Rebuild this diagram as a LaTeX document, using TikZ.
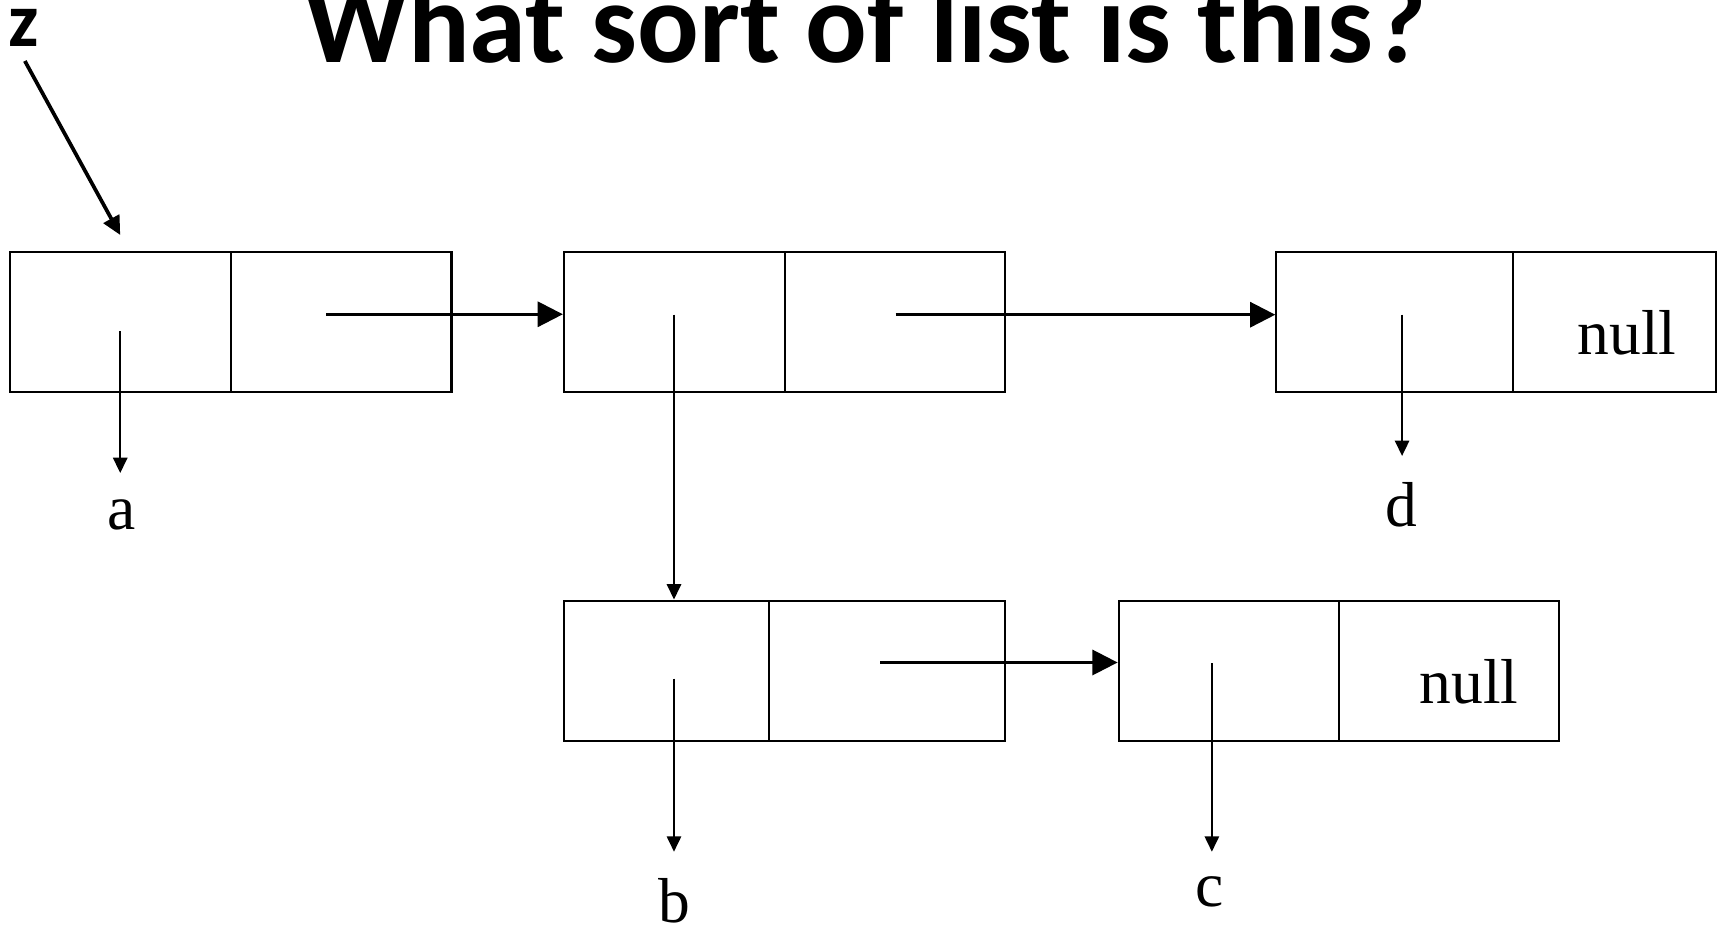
\documentclass[tikz,border=0pt]{standalone}
\usepackage{fontspec}
\setmainfont{Liberation Serif}
\newfontfamily\calfont{Carlito}
\usetikzlibrary{arrows.meta}
\begin{document}
\begin{tikzpicture}[x=0.5pt,y=-0.5pt,
  cell/.style={draw,line width=1pt,inner sep=0pt,minimum height=63.95pt},
  nextarrow/.style={line width=1.2pt,-{Triangle[length=11.5pt,width=11.5pt]}},
  dataarrow/.style={line width=0.95pt,-{Triangle[length=7pt,width=6.5pt]}},
  zarrow/.style={line width=1.7pt,-{Triangle[length=8.5pt,width=8pt]}},
  lbl/.style={font=\fontsize{29pt}{32pt}\selectfont,inner sep=0pt,anchor=base}]
\useasboundingbox (0,0) rectangle (1568,845);
% title and z
\node[anchor=base,inner sep=0pt,font=\calfont\bfseries\fontsize{52.5pt}{60pt}\selectfont] (title) at (790,57) {What sort of list is this?};
\node[anchor=base,inner sep=0pt,font=\calfont\bfseries\fontsize{35pt}{40pt}\selectfont] (z) at (21.5,42.6) {z};
% row 1 cells
\node[cell,minimum width=100.7pt] (b1l) at (110.1,294.35) {};
\node[cell,minimum width=100.8pt] (b1r) at (311.6,294.35) {};
\node[cell,minimum width=100.9pt] (b2l) at (615.9,294.35) {};
\node[cell,minimum width=100.6pt] (b2r) at (817.4,294.35) {};
\node[cell,minimum width=107.9pt] (b3l) at (1273.5,294.35) {};
\node[cell,minimum width=93.1pt] (b3r) at (1474.5,294.35) {};
% row 2 cells
\node[cell,minimum width=93.65pt] (b4l) at (608.65,612.45) {};
\node[cell,minimum width=107.65pt] (b4r) at (809.95,612.45) {};
\node[cell,minimum width=100.6pt] (b5l) at (1122.2,612.45) {};
\node[cell,minimum width=100.6pt] (b5r) at (1323.4,612.45) {};
% null texts
\node[lbl] (n3) at (1486,324) {null};
\node[lbl] (n5) at (1341.7,642.3) {null};
% labels
\node[lbl] (la) at (111,484) {a};
\node[lbl] (lb) at (615.5,842) {b};
\node[lbl] (lc) at (1105,828) {c};
\node[lbl] (ld) at (1280,481) {d};
% pointer coordinates
\coordinate (zs) at (22.7,55.7);
\coordinate (ze) at (109.8,214.6);
\coordinate (p1) at (297.8,287);
\coordinate (p2) at (818,287.4);
\coordinate (p4) at (803.7,605);
\coordinate (d1) at (109.8,302.3);
\coordinate (d1e) at (109.8,432);
\coordinate (d2) at (615.5,287.4);
\coordinate (d3) at (1280.4,287.4);
\coordinate (d3e) at (1280.4,416.4);
\coordinate (d4) at (615.5,619.8);
\coordinate (d4e) at (615.5,777.8);
\coordinate (d5) at (1106.7,605.5);
\coordinate (d5e) at (1106.7,777.8);
% connectors
\draw[zarrow] (zs) -- (ze);
\draw[nextarrow] (p1) -- (p1 -| b2l.west);
\draw[nextarrow] (p2) -- (p2 -| b3l.west);
\draw[nextarrow] (p4) -- (p4 -| b5l.west);
\draw[dataarrow] (d1) -- (d1e);
\draw[dataarrow] (d2) -- (d2 |- b4l.north);
\draw[dataarrow] (d3) -- (d3e);
\draw[dataarrow] (d4) -- (d4e);
\draw[dataarrow] (d5) -- (d5e);
\end{tikzpicture}
\end{document}
